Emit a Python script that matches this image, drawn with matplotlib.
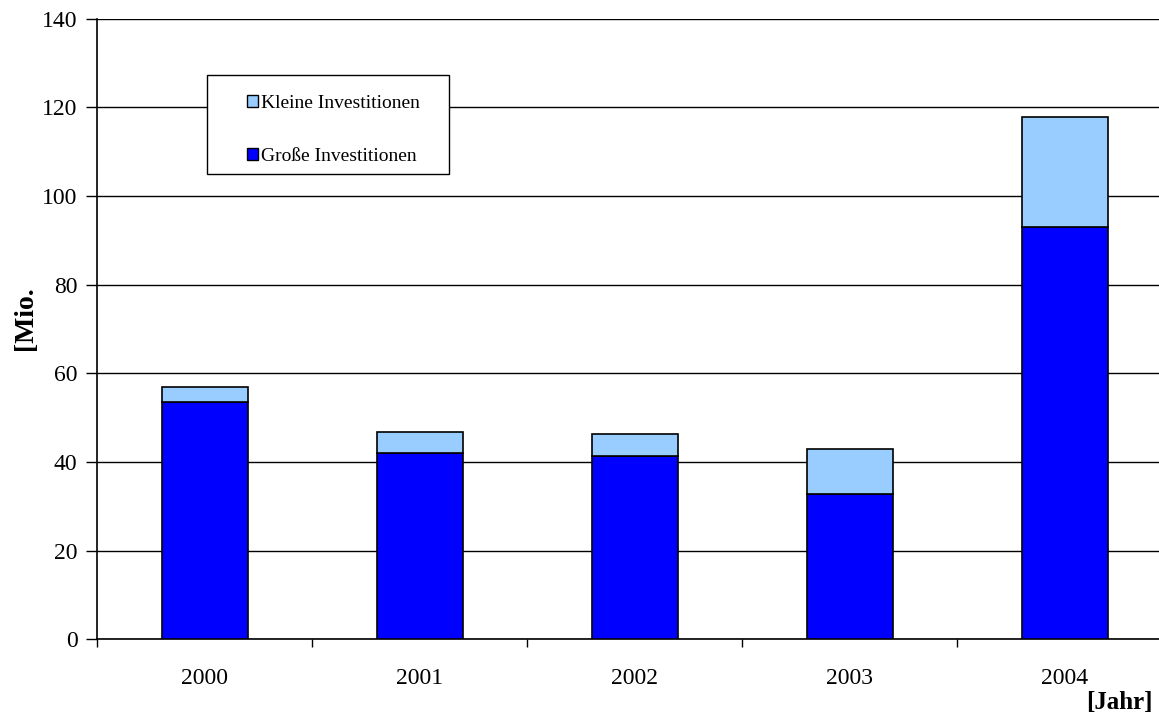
import numpy as np
import matplotlib.pyplot as plt
from matplotlib.patches import Patch, Rectangle
from matplotlib.ticker import FixedLocator

plt.rcParams.update({
    "font.family": "Liberation Serif",
    "font.size": 17,
})

# -------------------- data --------------------
years = ["2000", "2001", "2002", "2003", "2004"]
grosse = [53.5, 42.1, 41.3, 32.8, 93.1]
kleine = [3.3, 4.6, 5.0, 10.2, 24.7]

col_gross = "#0000ff"
col_klein = "#99ccff"

# -------------------- figure --------------------
fig = plt.figure(figsize=(11.59, 7.22), dpi=100)
ax = fig.add_axes([97 / 1159, 82.7 / 722, 1075 / 1159, 620.7 / 722])

x = np.arange(len(years))
w = 0.4
ax.bar(x, grosse, width=w, color=col_gross, edgecolor="black", linewidth=1.2, zorder=3)
ax.bar(x, kleine, width=w, bottom=grosse, color=col_klein, edgecolor="black",
       linewidth=1.2, zorder=3)

ax.set_xlim(-0.5, len(years) - 0.5)
ax.set_ylim(0, 140)
ax.set_yticks(np.arange(0, 141, 20))
ax.yaxis.grid(True, color="black", linewidth=1.0, zorder=0)
ax.set_axisbelow(True)

# labels centred under the bars, tick marks between categories
ax.set_xticks(x)
ax.set_xticklabels(years)
ax.tick_params(axis="x", which="major", length=0, pad=21)
ax.xaxis.set_minor_locator(FixedLocator(np.arange(-0.5, len(years), 1.0)))
ax.tick_params(axis="x", which="minor", length=6, width=1, direction="out")
ax.tick_params(axis="y", length=8, width=1, direction="out", pad=6)

for s in ["top", "right"]:
    ax.spines[s].set_visible(False)
ax.spines["left"].set_linewidth(1.2)
ax.spines["bottom"].set_linewidth(1.2)

fig.text(25 / 1159, 1 - 318 / 722, "[Mio.", rotation=90, fontweight="bold",
         ha="center", va="center", fontsize=20)
fig.text(1153 / 1159, 1 - 702 / 722, "[Jahr]", fontweight="bold",
         ha="right", va="center", fontsize=18)

# legend: white box drawn separately, entries placed inside it
box = Rectangle((0.102, 0.75), 0.225, 0.159, transform=ax.transAxes,
                facecolor="white", edgecolor="black", linewidth=1.0, zorder=4)
ax.add_patch(box)

handles = [
    Patch(facecolor=col_klein, edgecolor="black", label="Kleine Investitionen"),
    Patch(facecolor=col_gross, edgecolor="black", label="Große Investitionen"),
]
leg = ax.legend(handles=handles, loc="upper left", bbox_to_anchor=(0.1395, 0.877),
                fontsize=14, frameon=False,
                handlelength=0.55, handleheight=0.55, handletextpad=0.15,
                labelspacing=1.85, borderpad=0, borderaxespad=0)
leg.set_zorder(5)

fig.savefig("out.png", dpi=100)
